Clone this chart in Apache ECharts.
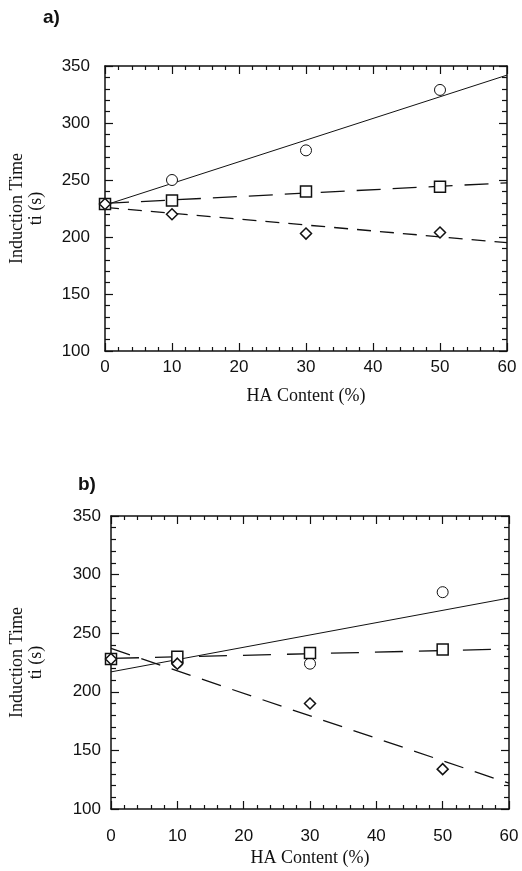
<!DOCTYPE html>
<html>
<head>
<meta charset="utf-8">
<title>Induction time vs HA content</title>
<script src="https://cdn.jsdelivr.net/npm/echarts@6/dist/echarts.min.js"></script>
<style>
  html, body { margin: 0; padding: 0; background: #fff; }
  #chart { width: 522px; height: 871px; }
</style>
</head>
<body>
<div id="chart"></div>
<script>
// HA content levels (%)
const haContent = [0, 10, 30, 50];

// Panel a) induction time ti (s)
const aCircle  = [229, 250, 276, 329];
const aSquare  = [229, 232, 240, 244];
const aDiamond = [229, 220, 203, 204];
// Panel a) fitted trend lines, end points [HA %, ti]
const aCircleFit  = [[0, 228], [60, 342]];
const aSquareFit  = [[0, 229.5], [60, 247.5]];
const aDiamondFit = [[0, 226], [60, 195]];

// Panel b) induction time ti (s)
const bCircle  = [228, 225, 224, 285];
const bSquare  = [228, 230, 233, 236];
const bDiamond = [228, 224, 190, 134];
// Panel b) fitted trend lines
const bCircleFit  = [[0, 217], [60, 280]];
const bSquareFit  = [[0, 228.5], [60, 236.5]];
const bDiamondFit = [[0, 237], [60, 122]];

// Axis ticks
const xTicks = [0, 10, 20, 30, 40, 50, 60];
const yTicks = [100, 150, 200, 250, 300, 350];

const SANS = '"Liberation Sans", Arial, sans-serif';
const SERIF = '"Liberation Serif", "Times New Roman", serif';
const INK = '#111';

const pts = ys => haContent.map((x, i) => [x, ys[i]]);

function xAxes(gridIndex, labelMargin, nameGap) {
  const common = {
    type: 'value', gridIndex,
    min: xTicks[0], max: xTicks[xTicks.length - 1], interval: 10,
    axisLine: { show: true, onZero: false, lineStyle: { color: INK, width: 1.5 } },
    axisTick: { show: true, inside: true, length: 8, lineStyle: { color: INK, width: 1.2 } },
    minorTick: { show: true, splitNumber: 5, length: 4, lineStyle: { color: INK, width: 1.2 } },
    splitLine: { show: false }
  };
  return [
    Object.assign({}, common, {
      position: 'bottom',
      axisLabel: { show: true, margin: labelMargin, fontFamily: SANS, fontSize: 17, color: INK },
      name: 'HA Content (%)', nameLocation: 'middle', nameGap,
      nameTextStyle: { fontFamily: SERIF, fontSize: 18, color: INK }
    }),
    Object.assign({}, common, { position: 'top', axisLabel: { show: false } })
  ];
}

function yAxes(gridIndex, labelMargin, nameGap) {
  const common = {
    type: 'value', gridIndex,
    min: yTicks[0], max: yTicks[yTicks.length - 1], interval: 50,
    axisLine: { show: true, onZero: false, lineStyle: { color: INK, width: 1.5 } },
    axisTick: { show: true, inside: true, length: 8, lineStyle: { color: INK, width: 1.2 } },
    minorTick: { show: true, splitNumber: 5, length: 5, lineStyle: { color: INK, width: 1.2 } },
    splitLine: { show: false }
  };
  return [
    Object.assign({}, common, {
      position: 'left',
      axisLabel: { show: true, margin: labelMargin, fontFamily: SANS, fontSize: 17, color: INK },
      name: 'Induction Time\nti (s)', nameLocation: 'middle', nameGap, nameRotate: 90,
      nameTextStyle: { fontFamily: SERIF, fontSize: 18, color: INK, lineHeight: 19 }
    }),
    Object.assign({}, common, { position: 'right', axisLabel: { show: false } })
  ];
}

function markers(ys, symbol, size, idx, width) {
  return {
    type: 'scatter', xAxisIndex: idx, yAxisIndex: idx,
    data: pts(ys), symbol, symbolSize: size, z: 5,
    itemStyle: { color: '#fff', borderColor: INK, borderWidth: width, opacity: 1 },
    silent: true
  };
}

function trend(data, dash, idx, width) {
  return {
    type: 'line', xAxisIndex: idx, yAxisIndex: idx,
    data, showSymbol: false, symbol: 'none', z: 3,
    lineStyle: { color: INK, width, type: dash },
    silent: true
  };
}

const chart = echarts.init(document.getElementById('chart'), null, { renderer: 'canvas' });

chart.setOption({
  backgroundColor: '#fff',
  animation: false,
  grid: [
    { left: 102, top: 66, width: 405, height: 285 },
    { left: 107, top: 516, width: 402, height: 293 }
  ],
  xAxis: [...xAxes(0, 8, 36), ...xAxes(1, 19, 40)].map((a, i) => Object.assign(a, { gridIndex: i < 2 ? 0 : 1 })),
  yAxis: [...yAxes(0, 15, 59), ...yAxes(1, 10, 65)].map((a, i) => Object.assign(a, { gridIndex: i < 2 ? 0 : 1 })),
  graphic: [
    { type: 'text', left: 43, top: 8, style: { text: 'a)', font: 'bold 19px ' + SANS, fill: INK } },
    { type: 'text', left: 78, top: 475, style: { text: 'b)', font: 'bold 19px ' + SANS, fill: INK } }
  ],
  series: [
    // panel a
    trend(aCircleFit, 'solid', 0, 1),
    trend(aSquareFit, [24, 12], 0, 1.3),
    trend(aDiamondFit, [14, 9], 0, 1.3),
    markers(aCircle, 'circle', 11, 0, 1),
    markers(aSquare, 'rect', 11, 0, 1.5),
    markers(aDiamond, 'diamond', [11, 11], 0, 1.5),
    // panel b (axis index 2 holds its bottom x / left y)
    trend(bCircleFit, 'solid', 2, 1),
    trend(bSquareFit, [28, 16], 2, 1.3),
    trend(bDiamondFit, [20, 12], 2, 1.3),
    markers(bCircle, 'circle', 11, 2, 1),
    markers(bSquare, 'rect', 11, 2, 1.5),
    markers(bDiamond, 'diamond', [11, 11], 2, 1.5)
  ]
});
</script>
</body>
</html>
